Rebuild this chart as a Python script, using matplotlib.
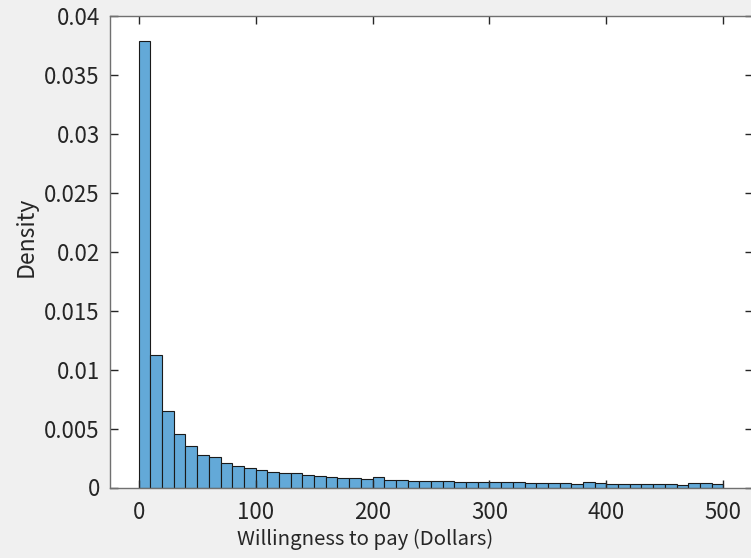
import matplotlib
matplotlib.use("Agg")
import matplotlib.pyplot as plt
import numpy as np

bin_edges = list(range(0, 510, 10))
density = [0.0379, 0.0112, 0.0065, 0.0045, 0.00352, 0.00278, 0.00258, 0.00207,
           0.00181, 0.00167, 0.00147, 0.0013, 0.00122, 0.00122, 0.00105, 0.00096,
           0.0009, 0.00082, 0.00082, 0.00073, 0.00087, 0.00066, 0.00066, 0.00058,
           0.00058, 0.00058, 0.00058, 0.0005, 0.00049, 0.00049, 0.00049, 0.0005,
           0.0005, 0.00041, 0.00041, 0.00041, 0.00041, 0.00031, 0.00043, 0.00034,
           0.00033, 0.00032, 0.00032, 0.00032, 0.00033, 0.00033, 0.00022, 0.00035,
           0.00035, 0.00028]
x_ticks = [0, 100, 200, 300, 400, 500]
y_ticks = [0, 0.005, 0.01, 0.015, 0.02, 0.025, 0.03, 0.035, 0.04]
y_tick_labels = ["0", "0.005", "0.01", "0.015", "0.02", "0.025", "0.03", "0.035", "0.04"]
x_label = "Willingness to pay (Dollars)"
y_label = "Density"

plt.rcParams['font.family'] = ['Noto Sans CJK JP', 'DejaVu Sans']

fig = plt.figure(figsize=(7.51, 5.58), dpi=100, facecolor='#f0f0f0')
ax = fig.add_axes([109.5 / 751, (558 - 487.5) / 558, (752.5 - 109.5) / 751, (487.5 - 16) / 558])
ax.set_facecolor('white')

edges = np.array(bin_edges)
ax.bar(edges[:-1], density, width=np.diff(edges), align='edge',
       color='#63a9d8', edgecolor='#1a1a1a', linewidth=0.8)

ax.set_xlim(-25, 525)
ax.set_ylim(0, 0.04)
ax.set_xticks(x_ticks)
ax.set_yticks(y_ticks)
ax.set_yticklabels(y_tick_labels)
ax.tick_params(direction='in', length=6, width=1, colors='#262626', labelsize=16,
               top=True, right=True, labelcolor='#262626')
ax.tick_params(axis='x', pad=10)
ax.tick_params(axis='y', pad=7)
for s in ax.spines.values():
    s.set_color('#707070')
    s.set_linewidth(1.0)

ax.set_xlabel(x_label, fontsize=14.7, color='#262626', labelpad=4)
ax.xaxis.set_label_coords(0.398, -0.088)
ax.set_ylabel(y_label, fontsize=16.5, color='#262626')
ax.yaxis.set_label_coords(-0.112, 0.531)

fig.savefig('out.png', dpi=100, facecolor=fig.get_facecolor())
